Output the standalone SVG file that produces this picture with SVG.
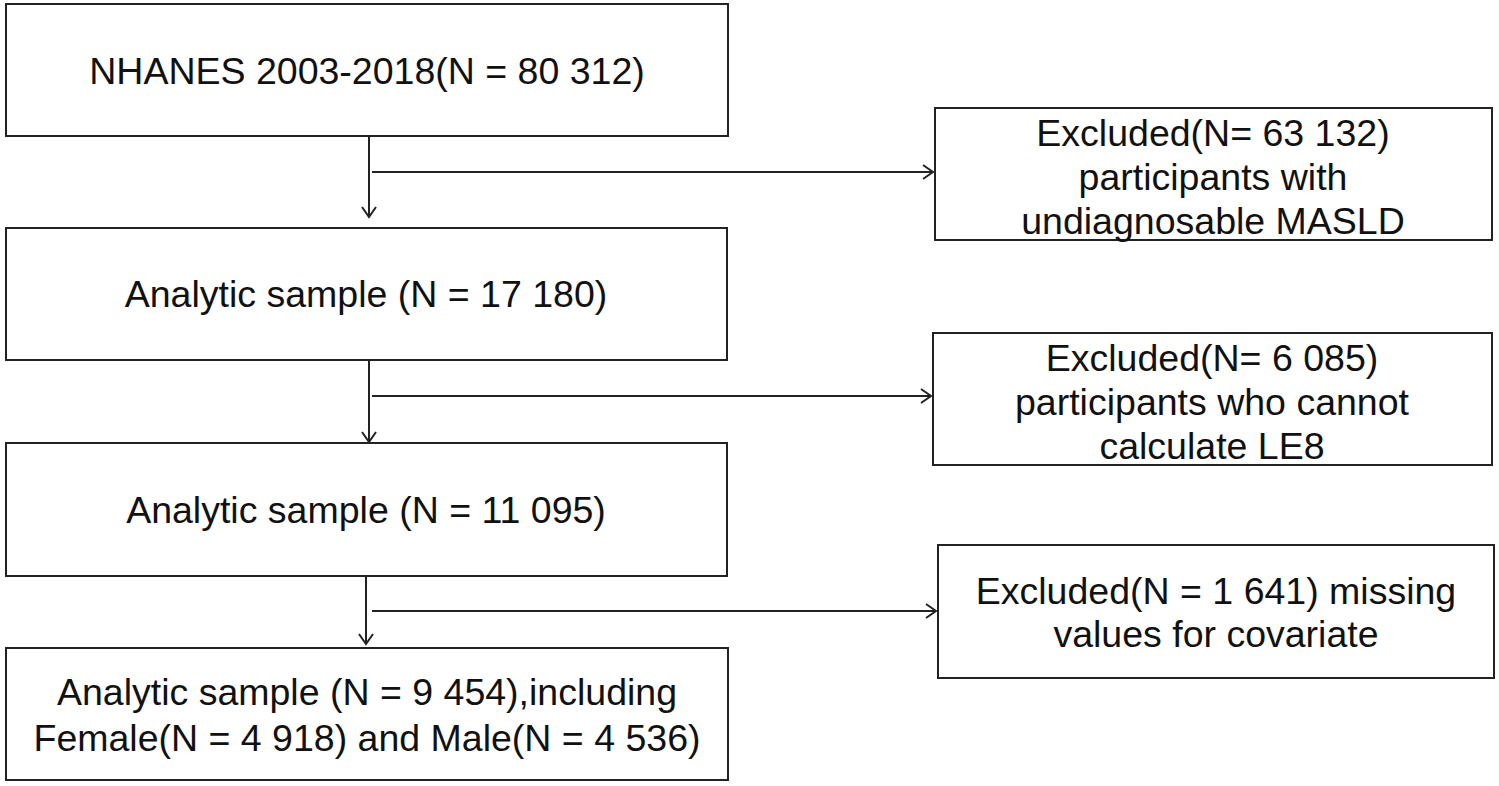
<svg xmlns="http://www.w3.org/2000/svg" width="1499" height="786" viewBox="0 0 1499 786">
<defs>
<style>
.box{fill:#fff;stroke:#222;stroke-width:2}
.t{font-family:"Liberation Sans",Arial,sans-serif;font-size:37.5px;fill:#111;text-anchor:middle}
.c{fill:none;stroke:#222;stroke-width:2}
</style>
<marker id="ah" markerWidth="14" markerHeight="16" refX="12" refY="8" orient="auto" markerUnits="userSpaceOnUse">
<path d="M2,1 L12,8 L2,15" fill="none" stroke="#222" stroke-width="2"/>
</marker>
</defs>
<rect width="1499" height="786" fill="#fff"/>
<g id="n1"><rect class="box" x="6" y="4" width="722" height="132"/><text class="t" x="367" y="84">NHANES 2003-2018(N = 80 312)</text></g>
<g id="n2"><rect class="box" x="6" y="228" width="721" height="132"/><text class="t" x="366" y="307">Analytic sample (N = 17 180)</text></g>
<g id="n3"><rect class="box" x="6" y="443" width="721" height="133"/><text class="t" x="366" y="523">Analytic sample (N = 11 095)</text></g>
<g id="n4"><rect class="box" x="6" y="648" width="722" height="132"/><text class="t" x="367" y="705">Analytic sample (N = 9 454),including</text><text class="t" x="367" y="751">Female(N = 4 918) and Male(N = 4 536)</text></g>
<g id="e1"><rect class="box" x="935" y="108" width="557" height="132"/><text class="t" x="1213" y="146">Excluded(N= 63 132)</text><text class="t" x="1213" y="190">participants with</text><text class="t" x="1213" y="234">undiagnosable MASLD</text></g>
<g id="e2"><rect class="box" x="933" y="333" width="559" height="132"/><text class="t" x="1212" y="371">Excluded(N= 6 085)</text><text class="t" x="1212" y="415">participants who cannot</text><text class="t" x="1212" y="459">calculate LE8</text></g>
<g id="e3"><rect class="box" x="938" y="545" width="556" height="133"/><text class="t" x="1216" y="604">Excluded(N = 1 641) missing</text><text class="t" x="1216" y="647">values for covariate</text></g>
<g id="connectors">
<line class="c" x1="369" y1="136" x2="369" y2="217" marker-end="url(#ah)"/>
<line class="c" x1="372" y1="172" x2="933" y2="172" marker-end="url(#ah)"/>
<line class="c" x1="369" y1="360" x2="369" y2="442" marker-end="url(#ah)"/>
<line class="c" x1="372" y1="396" x2="931" y2="396" marker-end="url(#ah)"/>
<line class="c" x1="366" y1="576" x2="366" y2="644" marker-end="url(#ah)"/>
<line class="c" x1="372" y1="611" x2="936" y2="611" marker-end="url(#ah)"/>
</g>
</svg>
